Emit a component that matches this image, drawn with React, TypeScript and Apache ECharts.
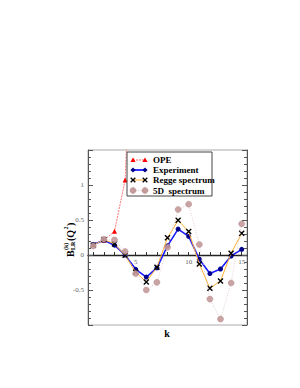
import React, { useEffect, useRef } from "react";
import * as echarts from "echarts";

const kLabels = ["1","2","3","4","5","6","7","8","9","10","11","12","13","14","15"];
const opeValues = [0.15, 0.21, 0.34, 1.07, 4.6, null, null, null, null, null, null, null, null, null, null];
const experimentValues = [0.15, 0.21, 0.14, 0.0, -0.205, -0.315, -0.185, 0.13, 0.37, 0.265, -0.06, -0.265, -0.2, -0.015, 0.08];
const reggeValues = [0.14, 0.22, 0.16, -0.005, -0.245, -0.385, -0.175, 0.245, 0.495, 0.335, -0.13, -0.475, -0.37, 0.025, 0.31];
const fiveDValues = [0.13, 0.225, 0.215, 0.05, -0.265, -0.5, -0.39, 0.11, 0.65, 0.725, 0.15, -0.63, -0.915, -0.4, 0.445];
const yTickLabels = ["-0.5", "0", "0.5", "1"];
const legendNames = ["OPE", "Experiment", "Regge spectrum", "5D  spectrum"];

const FONT = "Liberation Serif";
const X_MARK = "path://M0,0L10,10M10,0L0,10";

export default function App() {
  const ref = useRef<HTMLDivElement>(null);
  useEffect(() => {
    if (!ref.current) return;
    const chart = echarts.init(ref.current, null, { renderer: "svg" });
    const lx0 = 127, ly0 = 152, rowY = [160, 170, 180, 190.5];
    const m1 = 133, m2 = 145, tx = 153;
    const legendGraphics: any[] = [
      { type: "rect", shape: { x: lx0, y: ly0, width: 85, height: 44 }, style: { fill: "#fff", stroke: "#444", lineWidth: 1 }, z: 10 },
      { type: "line", shape: { x1: m1, y1: rowY[0], x2: m2, y2: rowY[0] }, style: { stroke: "#ff4040", lineWidth: 0.8, lineDash: [2, 1] }, z: 11 },
      ...[m1, m2].map((x) => ({ type: "polygon", shape: { points: [[x, rowY[0] - 2.6], [x - 2.6, rowY[0] + 2], [x + 2.6, rowY[0] + 2]] }, style: { fill: "#ff0000" }, z: 12 })),
      { type: "line", shape: { x1: m1, y1: rowY[1], x2: m2, y2: rowY[1] }, style: { stroke: "#0000ff", lineWidth: 1.6 }, z: 11 },
      ...[m1, m2].map((x) => ({ type: "polygon", shape: { points: [[x, rowY[1] - 2.6], [x + 2.6, rowY[1]], [x, rowY[1] + 2.6], [x - 2.6, rowY[1]]] }, style: { fill: "#00008b" }, z: 12 })),
      { type: "line", shape: { x1: m1, y1: rowY[2], x2: m2, y2: rowY[2] }, style: { stroke: "#ffb030", lineWidth: 1 }, z: 11 },
      ...[m1, m2].flatMap((x) => [
        { type: "line", shape: { x1: x - 2.3, y1: rowY[2] - 2.3, x2: x + 2.3, y2: rowY[2] + 2.3 }, style: { stroke: "#000", lineWidth: 1.3 }, z: 12 },
        { type: "line", shape: { x1: x - 2.3, y1: rowY[2] + 2.3, x2: x + 2.3, y2: rowY[2] - 2.3 }, style: { stroke: "#000", lineWidth: 1.3 }, z: 12 },
      ]),
      { type: "line", shape: { x1: m1, y1: rowY[3], x2: m2, y2: rowY[3] }, style: { stroke: "#d8b8b8", lineWidth: 0.8, lineDash: [1, 1.5] }, z: 11 },
      ...[m1, m2].map((x) => ({ type: "circle", shape: { cx: x, cy: rowY[3], r: 3 }, style: { fill: "#c49a9a", stroke: "#b08080", lineWidth: 0.5 }, z: 12 })),
      ...legendNames.map((n, i) => ({
        type: "text", x: tx, y: rowY[i], z: 12,
        style: { text: n, fill: "#000", font: `bold 9px ${FONT}`, verticalAlign: "middle", align: "left" },
      })),
      {
        type: "group", x: 70, y: 257, rotation: Math.PI / 2,
        children: [
          { type: "text", x: 0, y: 0, style: { text: "B", font: `bold 10px ${FONT}`, fill: "#000", verticalAlign: "middle" } },
          { type: "text", x: 7, y: -4.5, style: { text: "(k)", font: `bold 6px ${FONT}`, fill: "#000", verticalAlign: "middle" } },
          { type: "text", x: 7, y: 3, style: { text: "LR", font: `bold 6px ${FONT}`, fill: "#000", verticalAlign: "middle" } },
          { type: "text", x: 16, y: 0, style: { text: "(Q", font: `bold 10px ${FONT}`, fill: "#000", verticalAlign: "middle" } },
          { type: "text", x: 27.5, y: -4.5, style: { text: "2", font: `bold 6px ${FONT}`, fill: "#000", verticalAlign: "middle" } },
          { type: "text", x: 31, y: 0, style: { text: ")", font: `bold 10px ${FONT}`, fill: "#000", verticalAlign: "middle" } },
        ],
      },
      { type: "text", x: 167, y: 333, style: { text: "k", font: `bold 10px ${FONT}`, fill: "#000", align: "center", verticalAlign: "middle" } },
    ];

    const yAxisBase = {
      type: "value" as const,
      min: -1,
      max: 1.5,
      interval: 0.5,
      splitLine: { show: false },
      axisLine: { show: true, lineStyle: { color: "#555", width: 1 } },
      axisTick: { show: true, inside: true, length: 5, lineStyle: { color: "#555" } },
      minorTick: { show: true, splitNumber: 5, length: 3, lineStyle: { color: "#555" } },
    };

    chart.setOption({
      animation: false,
      grid: { left: 88, right: 53, top: 150, bottom: 63, show: true, borderColor: "#aaa", borderWidth: 1 },
      xAxis: {
        type: "category",
        data: kLabels,
        boundaryGap: true,
        position: "bottom",
        offset: -70,
        axisLine: { onZero: false, lineStyle: { color: "#222", width: 1.3 } },
        axisTick: { show: true, inside: true, alignWithLabel: true, interval: 0, length: 3, lineStyle: { color: "#333" } },
        axisLabel: {
          interval: (i: number) => (i + 1) % 5 === 0,
          fontFamily: FONT, fontSize: 7, color: "#666", margin: 3,
        },
        splitLine: { show: false },
      },
      yAxis: [
        {
          ...yAxisBase,
          position: "left",
          axisLabel: {
            fontFamily: FONT, fontSize: 7, color: "#666", margin: 4,
            formatter: (v: number) => {
              const s = String(v);
              return yTickLabels.includes(s) ? s : "";
            },
          },
        },
        { ...yAxisBase, position: "right", axisLabel: { show: false } },
      ],
      series: [
        {
          name: legendNames[0], type: "line", data: opeValues, connectNulls: false,
          symbol: "triangle", symbolSize: 5,
          itemStyle: { color: "#ff0000" },
          lineStyle: { color: "#ff5050", width: 0.8, type: [2, 1] },
          z: 2,
        },
        {
          name: legendNames[1], type: "line", data: experimentValues,
          symbol: "circle", symbolSize: 5,
          itemStyle: { color: "#00008b" },
          lineStyle: { color: "#1a1aff", width: 1.6 },
          z: 3,
        },
        {
          name: legendNames[2], type: "line", data: reggeValues,
          symbol: X_MARK, symbolSize: 5,
          itemStyle: { color: "#000", borderColor: "#000", borderWidth: 1.4 },
          lineStyle: { color: "#ffb030", width: 1 },
          z: 4,
        },
        {
          name: legendNames[3], type: "line", data: fiveDValues,
          symbol: "circle", symbolSize: 6,
          itemStyle: { color: "#c49a9a", borderColor: "#b08080", borderWidth: 0.5, opacity: 0.9 },
          lineStyle: { color: "#dcc0c0", width: 0.8, type: [1, 1.5] },
          z: 5,
        },
      ],
      graphic: legendGraphics,
    });
    return () => chart.dispose();
  }, []);
  return <div ref={ref} style={{ width: 300, height: 388, margin: -8 }} />;
}
